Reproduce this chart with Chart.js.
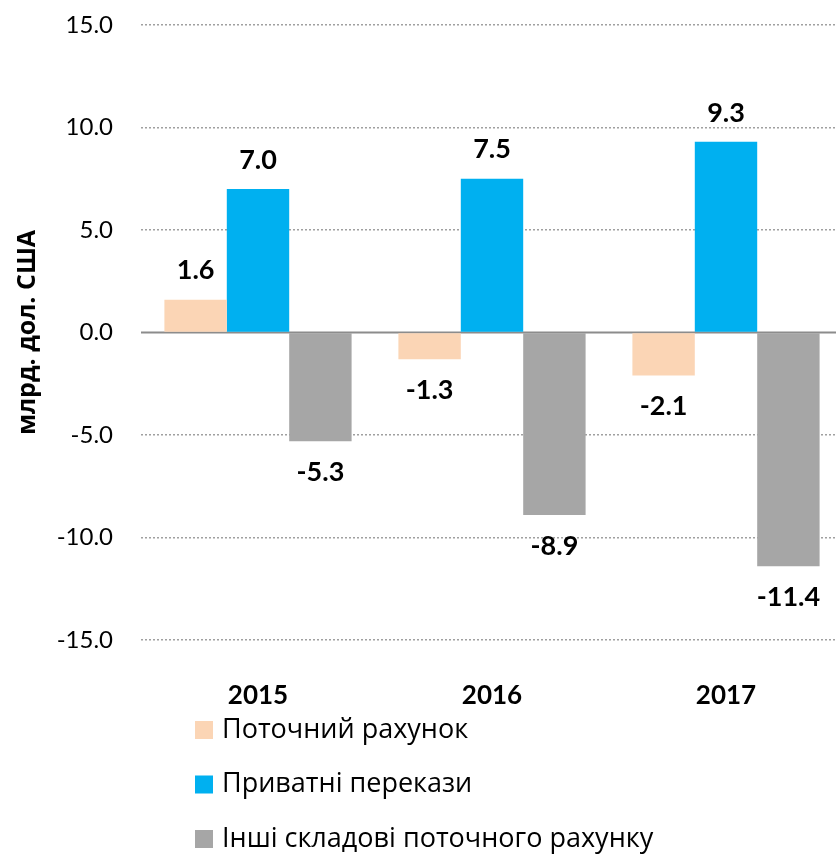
<!DOCTYPE html>
<html>
<head>
<meta charset="utf-8">
<script src="https://cdn.jsdelivr.net/npm/chart.js@4/dist/chart.umd.min.js"></script>
<style>
  html, body { margin: 0; padding: 0; background: #fff; overflow: hidden; }
  #wrap { width: 836px; height: 854px; overflow: hidden; }
</style>
</head>
<body>
<div id="wrap"><canvas id="c" width="843" height="854"></canvas></div>
<script>
// data
var years = ["2015", "2016", "2017"];
var currentAccount = [1.6, -1.3, -2.1];
var remittances = [7.0, 7.5, 9.3];
var otherItems = [-5.3, -8.9, -11.4];
var seriesNames = ["Поточний рахунок", "Приватні перекази", "Інші складові поточного рахунку"];
var yTicks = [-15, -10, -5, 0, 5, 10, 15];

var FONT = "Lato, 'Open Sans', sans-serif";
var TEXT_FONT = "'Open Sans', Lato, sans-serif";

// value labels above / below bars
var valueLabels = {
  id: "valueLabels",
  afterDatasetsDraw: function(chart) {
    var ctx = chart.ctx;
    ctx.save();
    ctx.font = "bold 27px " + FONT;
    ctx.fillStyle = "#000";
    ctx.textAlign = "center";
    ctx.textBaseline = "middle";
    chart.data.datasets.forEach(function(ds, i) {
      var meta = chart.getDatasetMeta(i);
      meta.data.forEach(function(bar, j) {
        var v = ds.data[j];
        var y = v >= 0 ? bar.y - 29 : bar.y + 31;
        ctx.fillText(v.toFixed(1), bar.x, y);
      });
    });
    ctx.restore();
  }
};

// solid zero line
var zeroLine = {
  id: "zeroLine",
  beforeDatasetsDraw: function(chart) {
    var ctx = chart.ctx, a = chart.chartArea;
    var y = chart.scales.y.getPixelForValue(0);
    ctx.save();
    ctx.strokeStyle = "#8c8c8c";
    ctx.lineWidth = 2;
    ctx.beginPath();
    ctx.moveTo(a.left, y);
    ctx.lineTo(a.right, y);
    ctx.stroke();
    ctx.restore();
  }
};

// vertical legend under the axis
var listLegend = {
  id: "listLegend",
  afterDraw: function(chart) {
    var ctx = chart.ctx;
    ctx.save();
    ctx.font = "27px " + TEXT_FONT;
    ctx.textBaseline = "middle";
    ctx.textAlign = "left";
    chart.data.datasets.forEach(function(ds, i) {
      var cy = 730 + i * 54.5;
      ctx.fillStyle = ds.backgroundColor;
      ctx.fillRect(195, cy - 9, 18, 18);
      ctx.fillStyle = "#000";
      ctx.fillText(ds.label, 222, cy);
    });
    ctx.restore();
  }
};

new Chart(document.getElementById("c").getContext("2d"), {
  type: "bar",
  data: {
    labels: years,
    datasets: [
      { label: seriesNames[0], data: currentAccount, backgroundColor: "#FBD5B5" },
      { label: seriesNames[1], data: remittances, backgroundColor: "#00B0F0" },
      { label: seriesNames[2], data: otherItems, backgroundColor: "#A6A6A6" },
    ],
  },
  options: {
    responsive: false,
    animation: false,
    layout: { padding: { top: 25, right: 0, bottom: 0, left: 0 } },
    datasets: { bar: { categoryPercentage: 0.8, barPercentage: 1.0 } },
    plugins: { legend: { display: false }, tooltip: { enabled: false } },
    scales: {
      x: {
        grid: { display: false },
        border: { display: false },
        ticks: { font: { size: 26, weight: "bold", family: FONT }, color: "#000", padding: 32 },
        afterFit: function(s) { s.height = 214; },
      },
      y: {
        min: -15,
        max: 15,
        afterBuildTicks: function(s) { s.ticks = yTicks.map(function(v) { return { value: v }; }); },
        ticks: {
          font: { size: 24, family: FONT },
          color: "#000",
          padding: 28,
          callback: function(v) { return Number(v).toFixed(1); },
        },
        grid: {
          drawTicks: false,
          lineWidth: 1.5,
          color: function(c) { return c.tick && c.tick.value === 0 ? "rgba(0,0,0,0)" : "#a0a0a0"; },
        },
        border: { display: false, dash: [2, 2] },
        title: {
          display: true,
          text: "млрд. дол. США",
          font: { size: 25, weight: "bold", family: TEXT_FONT },
          color: "#000",
          padding: { top: 13, bottom: 0 },
        },
        afterFit: function(s) { s.width = 141; s.paddingTop = 0; s.paddingBottom = 0; },
      },
    },
  },
  plugins: [zeroLine, valueLabels, listLegend],
});
</script>
</body>
</html>
